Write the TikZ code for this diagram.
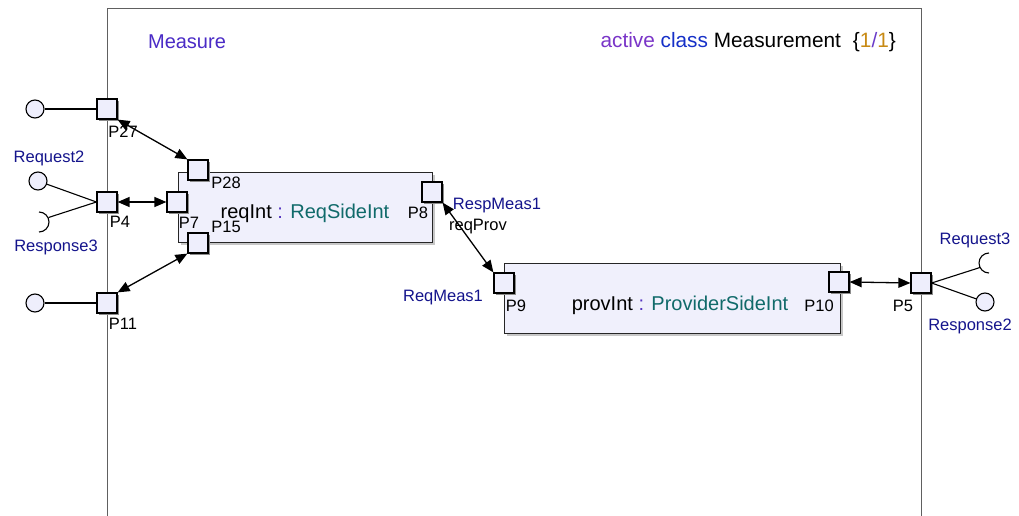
\documentclass[tikz,border=0pt]{standalone}
\usepackage{fontspec}
\setmainfont{Liberation Sans}
\usetikzlibrary{arrows.meta,shadows}
\definecolor{portfill}{HTML}{EEEEFC}
\definecolor{boxfill}{HTML}{F0F0FC}
\definecolor{framec}{HTML}{606060}
\definecolor{ifc}{HTML}{14148C}
\definecolor{titlec}{HTML}{4A2BC6}
\definecolor{activec}{HTML}{7A35C8}
\definecolor{classc}{HTML}{1530C8}
\definecolor{numc}{HTML}{C88A14}
\definecolor{slashc}{HTML}{6A3AC8}
\definecolor{typec}{HTML}{106A6A}
\definecolor{colonc}{HTML}{5535C0}
\tikzset{
  port/.style={draw=black, line width=1.2pt, fill=portfill, minimum size=20pt, inner sep=0pt,
    drop shadow={shadow xshift=2.2pt, shadow yshift=-2.2pt, fill=black!45, opacity=1}},
  partbox/.style={draw=black!85, line width=0.8pt, fill=boxfill, inner sep=0pt,
    drop shadow={shadow xshift=3pt, shadow yshift=-3pt, fill=black!22, opacity=1}},
  ball/.style={circle, draw=black, line width=1.1pt, fill=portfill, minimum size=18pt, inner sep=0pt},
  plab/.style={font=\fontsize{16.5}{18}\selectfont, inner sep=0pt, text=black},
  ilab/.style={font=\fontsize{16.5}{18}\selectfont, inner sep=0pt, text=ifc},
  big/.style={font=\fontsize{20}{24}\selectfont, inner sep=0pt},
  conn/.style={line width=1.3pt, {Triangle[length=12pt,width=10pt]}-{Triangle[length=12pt,width=10pt]}},
  wire/.style={line width=1.1pt},
  frame/.style={draw=framec, line width=0.8pt}
}
\begin{document}
\begin{tikzpicture}[x=1pt,y=-1pt]
\useasboundingbox[fill=white] (0,0) rectangle (1019,516);
% outer frame
\draw[frame] (107,520) -- (107,8) -- (921,8) -- (921,520);
% titles
\node[big, text=titlec] (ttl) at (187,42) {Measure};
\node[big, anchor=east, font=\fontsize{20.8}{24}\selectfont] (cls) at (896,42) {\textcolor{activec}{active} \textcolor{classc}{class} Measurement\hspace{12pt}\{\textcolor{numc}{1}\textcolor{slashc}{/}\textcolor{numc}{1}\}};
% parts
\node[partbox, minimum width=254pt, minimum height=70pt] (req) at (305,207) {};
\node[partbox, minimum width=336pt, minimum height=70pt] (prov) at (672,298) {};
\node[big] (reqlab) at (305,213) {reqInt \textcolor{colonc}{:} \textcolor{typec}{ReqSideInt}};
\node[big] (provlab) at (680,305) {provInt \textcolor{colonc}{:} \textcolor{typec}{ProviderSideInt}};
% ports
\node[port] (p27) at (107,109) {};
\node[port] (p4) at (107,202) {};
\node[port] (p11) at (107,303) {};
\node[port] (p28) at (198,170) {};
\node[port] (p7) at (177,202) {};
\node[port] (p15) at (198,243) {};
\node[port] (p8) at (432,192) {};
\node[port] (p9) at (504,283) {};
\node[port] (p10) at (839,282) {};
\node[port] (p5) at (921,283) {};
% port labels
\node[plab] (l27) at (123,132) {P27};
\node[plab] (l4) at (120,222) {P4};
\node[plab] (l11) at (123,324) {P11};
\node[plab] (l28) at (226,183) {P28};
\node[plab] (l7) at (189,223) {P7};
\node[plab] (l15) at (226,227) {P15};
\node[plab] (l8) at (418,213) {P8};
\node[plab] (l9) at (516,306) {P9};
\node[plab] (l10) at (819,306) {P10};
\node[plab] (l5) at (903,306) {P5};
\node[plab] (lrp) at (478,227) {reqProv};
% interface labels
\node[ilab] (lr2) at (49,158) {Request2};
\node[ilab] (lrs3) at (56,247) {Response3};
\node[ilab] (lrm1) at (497,206) {RespMeas1};
\node[ilab] (lqm1) at (443,298) {ReqMeas1};
\node[ilab] (lr3) at (975,240) {Request3};
\node[ilab] (lrs2) at (970,326) {Response2};
% lollipops and sockets
\node[ball] (b27) at (35,109) {};
\node[ball] (b11) at (35,303) {};
\node[ball] (br2) at (38,181) {};
\node[ball] (brs2) at (985,302) {};
\coordinate (s3) at (48.5,217.5);
\coordinate (s5) at (980,267.5);
\draw[wire] (39,212) arc[start angle=90, end angle=-90, radius=10pt];
\draw[wire] (989,253) arc[start angle=90, end angle=270, radius=10pt];
\draw[wire] (b27) -- (p27);
\draw[wire] (b11) -- (p11);
\draw[wire] (br2) -- (p4.west);
\draw[wire] (s3) -- (p4.west);
\draw[wire] (brs2) -- (p5.east);
\draw[wire] (s5) -- (p5.east);
% connectors
\draw[conn] (p27.south east) -- (p28.north west);
\draw[conn] (p4.east) -- (p7.west);
\draw[conn] (p11.north east) -- (p15.south west);
\draw[conn] (p8.south east) -- (p9.north west);
\draw[conn] (p10.east) -- (p5.west);
\end{tikzpicture}
\end{document}
